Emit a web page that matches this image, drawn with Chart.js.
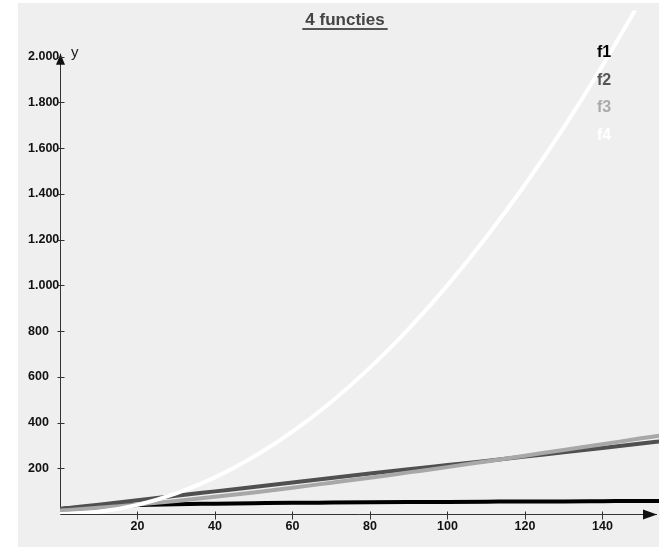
<!DOCTYPE html>
<html>
<head>
<meta charset="utf-8">
<title>4 functies</title>
<script src="https://cdn.jsdelivr.net/npm/chart.js@4.4.1/dist/chart.umd.min.js"></script>
<style>
  html, body { margin: 0; padding: 0; background: #ffffff; }
  canvas { display: block; }
</style>
</head>
<body>
<canvas id="chart" width="659" height="547"></canvas>
<script>
// values
const xValues = [0, 10, 20, 30, 40, 50, 60, 70, 80, 90, 100, 110, 120, 130, 140, 150, 155];
const f1 = [22, 33, 39, 43, 45, 47, 49, 50, 51, 52, 53, 54, 55, 55, 56, 57, 57];
const f2 = [22, 41, 60, 80, 99, 118, 138, 157, 177, 196, 214, 232, 251, 270, 289, 308, 318];
const f3 = [15, 27, 41, 57, 75, 94, 115, 137, 159, 182, 205, 230, 255, 280, 305, 331, 343];
const f4 = [0, 10, 40, 90, 160, 250, 360, 490, 640, 810, 1000, 1210, 1440, 1690, 1960, 2250, 2400];

const seriesNames = ['f1', 'f2', 'f3', 'f4'];
const seriesColors = ['#000000', '#505050', '#a8a8a8', '#ffffff'];
const legendColors = ['#000000', '#555555', '#aaaaaa', '#ffffff'];

const xTicks = [20, 40, 60, 80, 100, 120, 140];
const yTicks = [200, 400, 600, 800, 1000, 1200, 1400, 1600, 1800, 2000];

const chartTitle = '4 functies';
const yAxisLabel = 'y';
const FONT = '"Liberation Sans", Arial, sans-serif';

function formatNl(v) {
    return String(v).replace(/\B(?=(\d{3})+(?!\d))/g, '.');
}

function points(ys) {
    return xValues.map((x, i) => ({ x: x, y: ys[i] }));
}

const allSeries = [f1, f2, f3, f4];

const decorPlugin = {
    id: 'decor',
    beforeDraw(chart) {
        const ctx = chart.ctx;
        ctx.save();
        ctx.fillStyle = '#efefef';
        ctx.fillRect(18, 3, chart.width - 18, chart.height - 3);
        ctx.restore();
    },
    beforeDatasetsDraw(chart) {
        const ctx = chart.ctx;
        const xs = chart.scales.x;
        const ys = chart.scales.y;
        const x0 = Math.round(xs.getPixelForValue(0)) + 0.5;
        const y0 = Math.round(ys.getPixelForValue(0)) + 0.5;
        const yTop = ys.getPixelForValue(2000) - 3;
        const xEnd = chart.chartArea.right - 2;

        ctx.save();
        ctx.strokeStyle = '#333333';
        ctx.fillStyle = '#111111';
        ctx.lineWidth = 1;

        // axis lines
        ctx.beginPath();
        ctx.moveTo(x0, y0);
        ctx.lineTo(x0, yTop);
        ctx.moveTo(x0, y0);
        ctx.lineTo(xEnd, y0);
        ctx.stroke();

        // arrow heads
        ctx.beginPath();
        ctx.moveTo(x0, yTop);
        ctx.lineTo(x0 - 4.5, yTop + 11);
        ctx.lineTo(x0 + 4.5, yTop + 11);
        ctx.closePath();
        ctx.fill();
        ctx.beginPath();
        ctx.moveTo(xEnd, y0);
        ctx.lineTo(xEnd - 14, y0 - 5);
        ctx.lineTo(xEnd - 14, y0 + 5);
        ctx.closePath();
        ctx.fill();

        // tick marks
        ctx.beginPath();
        yTicks.forEach(v => {
            const p = Math.round(ys.getPixelForValue(v)) + 0.5;
            ctx.moveTo(x0 - 3, p);
            ctx.lineTo(x0 + 4, p);
        });
        xTicks.forEach(v => {
            const p = Math.round(xs.getPixelForValue(v)) + 0.5;
            ctx.moveTo(p, y0 - 3);
            ctx.lineTo(p, y0 + 5);
        });
        ctx.stroke();
        ctx.restore();
    },
    afterDraw(chart) {
        const ctx = chart.ctx;
        const x0 = chart.scales.x.getPixelForValue(0);
        const yTop = chart.scales.y.getPixelForValue(2000) - 3;
        ctx.save();

        // title with underline
        ctx.font = 'bold 17px ' + FONT;
        ctx.fillStyle = '#444444';
        ctx.textAlign = 'center';
        ctx.textBaseline = 'alphabetic';
        ctx.fillText(chartTitle, 345, 25);
        const w = ctx.measureText(chartTitle).width;
        ctx.fillStyle = '#555555';
        ctx.fillRect(345 - w / 2 - 3, 28, w + 6, 2);

        // y axis name
        ctx.font = '15px ' + FONT;
        ctx.fillStyle = '#222222';
        ctx.textAlign = 'left';
        ctx.fillText(yAxisLabel, x0 + 11, yTop + 3);

        // legend
        ctx.font = 'bold 16px ' + FONT;
        seriesNames.forEach((name, i) => {
            ctx.fillStyle = legendColors[i];
            ctx.fillText(name, 597, 57 + i * 27.5);
        });
        ctx.restore();
    }
};

const ctx = document.getElementById('chart').getContext('2d');
new Chart(ctx, {
    type: 'line',
    data: {
        datasets: allSeries.map((s, i) => ({
            label: seriesNames[i],
            data: points(s),
            borderColor: seriesColors[i],
            backgroundColor: seriesColors[i],
            borderWidth: 4,
            pointRadius: 0,
            fill: false,
            cubicInterpolationMode: 'monotone',
            order: 4 - i
        }))
    },
    options: {
        responsive: false,
        animation: false,
        layout: { padding: { left: 28, top: 3, right: 0, bottom: 0 } },
        plugins: {
            legend: { display: false },
            title: { display: false },
            tooltip: { enabled: false }
        },
        scales: {
            x: {
                type: 'linear',
                min: 0,
                max: 154.6,
                grid: { display: false, drawTicks: false },
                border: { display: false },
                afterBuildTicks: scale => { scale.ticks = xTicks.map(v => ({ value: v })); },
                afterFit: scale => { scale.height = 33; },
                ticks: {
                    autoSkip: false,
                    maxRotation: 0,
                    padding: 5,
                    color: '#111111',
                    font: { family: FONT, size: 12.5, weight: 'bold' }
                }
            },
            y: {
                type: 'linear',
                min: 0,
                max: 2202,
                grid: { display: false, drawTicks: false },
                border: { display: false },
                afterBuildTicks: scale => { scale.ticks = yTicks.map(v => ({ value: v })); },
                afterFit: scale => { scale.width = 32; },
                ticks: {
                    crossAlign: 'far',
                    autoSkip: false,
                    color: '#111111',
                    font: { family: FONT, size: 12.5, weight: 'bold' },
                    callback: v => formatNl(v)
                }
            }
        }
    },
    plugins: [decorPlugin]
});
</script>
</body>
</html>
